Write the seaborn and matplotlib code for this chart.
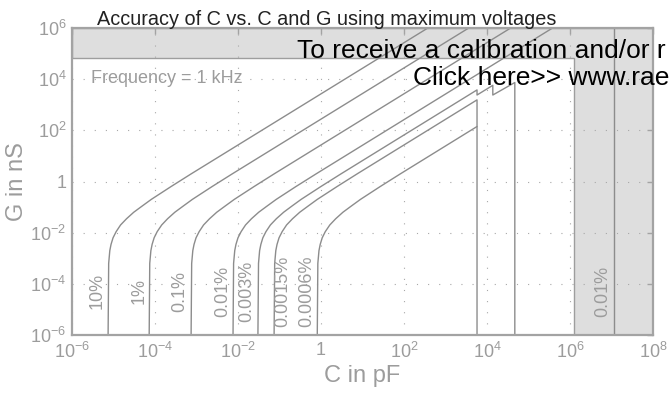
import matplotlib
matplotlib.use("Agg")
import matplotlib.pyplot as plt
from matplotlib.patches import Polygon
from matplotlib.ticker import FixedLocator, FixedFormatter, NullLocator
import pandas as pd
import seaborn as sns

# G (nS) sampled around the knee shared by every contour
g_knee = [1e-6, 6.3e-4, 2.0e-3, 3.5e-3, 6.3e-3, 1.1e-2, 2.0e-2, 3.5e-2,
          6.3e-2, 1.1e-1, 2.0e-1, 6.3e-1, 2.0]

# C (pF) of each accuracy contour at those G values
c_10 = [7.41e-6, 7.65e-6, 8.15e-6, 8.73e-6, 9.75e-6, 1.16e-5, 1.48e-5, 2.06e-5,
        3.08e-5, 4.91e-5, 8.15e-5, 2.42e-4, 7.48e-4]
c_1 = [7.24e-5, 7.47e-5, 7.96e-5, 8.53e-5, 9.53e-5, 1.13e-4, 1.45e-4, 2.01e-4,
       3.01e-4, 4.80e-4, 7.96e-4, 2.36e-3, 7.31e-3]
c_01 = [7.41e-4, 7.65e-4, 8.15e-4, 8.73e-4, 9.75e-4, 1.16e-3, 1.48e-3, 2.06e-3,
        3.08e-3, 4.91e-3, 8.15e-3, 2.42e-2, 7.48e-2]
c_001 = [7.59e-3, 7.83e-3, 8.35e-3, 8.94e-3, 9.99e-3, 1.19e-2, 1.52e-2, 2.11e-2,
         3.16e-2, 5.03e-2, 8.35e-2, 0.247, 0.767]
c_0003 = [3.02e-2, 3.12e-2, 3.32e-2, 3.56e-2, 3.97e-2, 4.72e-2, 6.04e-2, 8.39e-2,
          0.126, 0.200, 0.332, 0.985, 3.05]
c_00015 = [7.41e-2, 7.65e-2, 8.15e-2, 8.73e-2, 9.75e-2, 0.116, 0.148, 0.206,
           0.308, 0.491, 0.815, 2.42, 7.48]
c_00006 = [0.813, 0.839, 0.894, 0.958, 1.07, 1.27, 1.63, 2.26, 3.38, 5.38, 8.94,
           26.5, 82.1]

# upper ends of the contours (C, G): straight runs, steps and range limits
tail_10 = ([376.0], [1e6])
tail_1 = ([3.63e3], [1e6])
tail_01 = ([3.72e4], [1e6])
tail_001 = ([3.80e5], [1e6])
tail_0003 = ([5.75e3, 5.75e3, 1.38e4, 1.38e4, 4.68e4, 4.68e4],
             [3.8e3, 2.4e3, 5.75e3, 2.4e3, 7.4e3, 1e-6])
tail_00015 = ([5.75e3, 5.75e3], [1.55e3, 1e-6])
tail_00006 = ([5.75e3], [141.0])

# high-capacitance limit of the 0.01 % contour
c_limit_001 = [1.15e7, 1.15e7]
g_limit_001 = [1e-6, 1e6]

labels = ["10%", "1%", "0.1%", "0.01%", "0.003%", "0.0015%", "0.0006%"]
label_c = [4.0e-6, 4.2e-5, 4.0e-4, 4.4e-3, 1.6e-2, 0.123, 0.45]
label_g = 5.2e-5
limit_label_c = 6.2e6

# out-of-range regions: G above 7e4 nS and C above 1.23e6 pF
band_g = 7.0e4
band_c = 1.23e6

x_ticks = [1e-6, 1e-4, 1e-2, 1, 1e2, 1e4, 1e6, 1e8]
x_tick_labels = [r"$\mathdefault{10^{-6}}$", r"$\mathdefault{10^{-4}}$",
                 r"$\mathdefault{10^{-2}}$", "1", r"$\mathdefault{10^{2}}$",
                 r"$\mathdefault{10^{4}}$", r"$\mathdefault{10^{6}}$",
                 r"$\mathdefault{10^{8}}$"]
y_ticks = [1e-6, 1e-4, 1e-2, 1, 1e2, 1e4, 1e6]
y_tick_labels = [r"$\mathdefault{10^{-6}}$", r"$\mathdefault{10^{-4}}$",
                 r"$\mathdefault{10^{-2}}$", "1", r"$\mathdefault{10^{2}}$",
                 r"$\mathdefault{10^{4}}$", r"$\mathdefault{10^{6}}$"]

sns.set_theme(style="white")
plt.rcParams["font.family"] = ["Liberation Sans", "DejaVu Sans"]
plt.rcParams["mathtext.fontset"] = "custom"
plt.rcParams["mathtext.rm"] = "Liberation Sans"
plt.rcParams["mathtext.it"] = "Liberation Sans:italic"
plt.rcParams["mathtext.bf"] = "Liberation Sans:bold"

LINE = "#8c8c8c"
TEXT = "#9c9c9c"
FRAME = "#a3a3a3"

rows = []
curves = [(c_10, tail_10), (c_1, tail_1), (c_01, tail_01), (c_001, tail_001),
          (c_0003, tail_0003), (c_00015, tail_00015), (c_00006, tail_00006)]
for name, (cs, (tc, tg)) in zip(labels, curves):
    for c, g in zip(list(cs) + list(tc), list(g_knee) + list(tg)):
        rows.append({"curve": name, "C": c, "G": g})
for c, g in zip(c_limit_001, g_limit_001):
    rows.append({"curve": "0.01% limit", "C": c, "G": g})
df = pd.DataFrame(rows)

fig = plt.figure(figsize=(6.7, 4.0), dpi=100)
ax = fig.add_axes([72 / 670, 65 / 400, 581 / 670, 307 / 400])
ax.set_xscale("log")
ax.set_yscale("log")
ax.set_xlim(1e-6, 1e8)
ax.set_ylim(1e-6, 1e6)

band = Polygon([(1e-6, band_g), (band_c, band_g), (band_c, 1e-6), (1e8, 1e-6),
                (1e8, 1e6), (1e-6, 1e6)], closed=True, facecolor="#dedede",
               edgecolor="#9e9e9e", linewidth=1.0, zorder=0)
ax.add_patch(band)

ax.grid(True, which="major", color="#a8a8a8", linestyle=(0, (1, 9)),
        linewidth=0.8, zorder=1)
ax.set_axisbelow(True)

sns.lineplot(data=df, x="C", y="G", units="curve", estimator=None, sort=False,
             color=LINE, linewidth=1.0, ax=ax, zorder=3, legend=False)

ax.xaxis.set_major_locator(FixedLocator(x_ticks))
ax.xaxis.set_major_formatter(FixedFormatter(x_tick_labels))
ax.yaxis.set_major_locator(FixedLocator(y_ticks))
ax.yaxis.set_major_formatter(FixedFormatter(y_tick_labels))
ax.xaxis.set_minor_locator(NullLocator())
ax.yaxis.set_minor_locator(NullLocator())
ax.tick_params(axis="both", which="major", direction="in", length=4,
               width=1.0, color=FRAME, labelcolor=TEXT, labelsize=13,
               top=True, right=True)
ax.tick_params(axis="x", pad=5)
ax.tick_params(axis="y", pad=4)
for s in ax.spines.values():
    s.set_color(FRAME)
    s.set_linewidth(1.6)
    s.set_zorder(4)

ax.set_xlabel("C in pF", color=TEXT, fontsize=17, labelpad=2)
ax.set_ylabel("G in nS", color=TEXT, fontsize=17, labelpad=2)

for lab, lc in zip(labels, label_c):
    ax.text(lc, label_g, lab, rotation=90, ha="center", va="center",
            color=TEXT, fontsize=13, zorder=5)
ax.text(limit_label_c, label_g, "0.01%", rotation=90, ha="center",
        va="center", color=TEXT, fontsize=13, zorder=5)

ax.text(0.033, 0.835, "Frequency = 1 kHz", transform=ax.transAxes,
        color=TEXT, fontsize=13, ha="left", va="center")

fig.text(97 / 670, 1 - 25 / 400, "Accuracy of C vs. C and G using maximum voltages",
         color="#222222", fontsize=14.3, ha="left", va="baseline")
fig.text(297 / 670, 1 - 58 / 400, "To receive a calibration and/or r",
         color="black", fontsize=19, ha="left", va="baseline")
fig.text(413 / 670, 1 - 85 / 400, "Click here>> www.rae",
         color="black", fontsize=19, ha="left", va="baseline")

fig.savefig("out.png", dpi=100)
